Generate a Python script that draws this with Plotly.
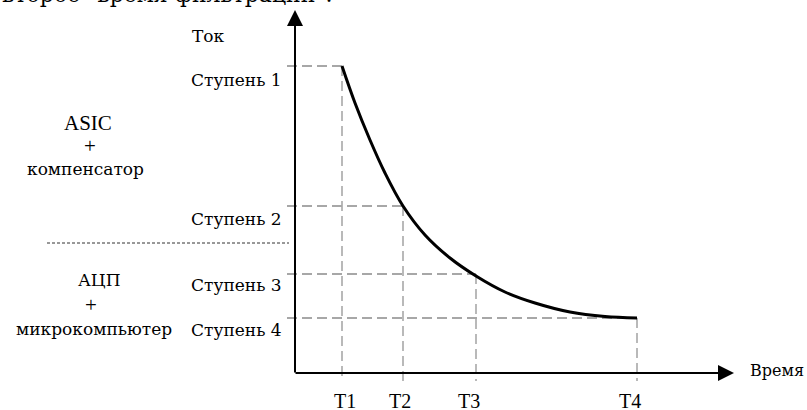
import plotly.graph_objects as go

# Time marks on the horizontal axis and current steps on the vertical axis
t_labels = ["T1", "T2", "T3", "T4"]
t_values = [0.47, 1.08, 1.81, 3.42]
step_labels = ["Ступень 1", "Ступень 2", "Ступень 3", "Ступень 4"]
step_values = [3.07, 1.67, 0.99, 0.55]

# Decay curve of the current over time
curve_t = [0.47, 0.60, 0.75, 0.90, 1.08, 1.30, 1.55, 1.81, 2.10, 2.40, 2.75, 3.10, 3.42]
curve_i = [3.07, 2.70, 2.33, 2.00, 1.67, 1.38, 1.15, 0.97, 0.81, 0.70, 0.61, 0.565, 0.55]

LATIN = "Liberation Serif"
CYR = "DejaVu Serif"

fig = go.Figure()

# dashed guides: horizontal from the axis to the curve, vertical down past the axis
hx, hy, vx, vy = [], [], [], []
for t, s in zip(t_values, step_values):
    hx += [-0.08, t, None]
    hy += [s, s, None]
    vx += [t, t, None]
    vy += [s, -0.08, None]

fig.add_trace(go.Scatter(x=hx, y=hy, mode="lines", hoverinfo="skip",
                         line=dict(color="#8a8a8a", width=1.3, dash="10px,5px")))
fig.add_trace(go.Scatter(x=vx, y=vy, mode="lines", hoverinfo="skip",
                         line=dict(color="#a8a8a8", width=1.6, dash="10px,5px")))

fig.add_trace(go.Scatter(x=curve_t, y=curve_i, mode="lines", hoverinfo="skip",
                         line=dict(color="black", width=3, shape="spline", smoothing=1.0)))

# separator between the two hardware groups
fig.add_shape(type="line", x0=-2.48, x1=-0.06, y0=1.30, y1=1.30, xref="x", yref="y",
              line=dict(color="#333333", width=1, dash="3px,2px"))

annotations = []
# axes drawn as arrows
annotations.append(dict(x=0, y=3.63, ax=0, ay=-0.01, xref="x", yref="y", axref="x", ayref="y",
                        text="", showarrow=True, arrowhead=2, arrowsize=1.6, arrowwidth=2,
                        arrowcolor="black", standoff=0, startstandoff=0))
annotations.append(dict(x=4.39, y=0, ax=-0.01, ay=0, xref="x", yref="y", axref="x", ayref="y",
                        text="", showarrow=True, arrowhead=2, arrowsize=1.6, arrowwidth=2,
                        arrowcolor="black", standoff=0, startstandoff=0))


def label(text, x, y, anchor="center", xref="x", yref="y", xshift=0, size=17, family=CYR):
    annotations.append(dict(text=text, x=x, y=y, xref=xref, yref=yref, xanchor=anchor,
                            yanchor="middle", showarrow=False, xshift=xshift,
                            font=dict(family=family, size=size, color="black")))


label("Ток", -1.05, 3.37, anchor="left")
label("Время", 4.53, 0.03, anchor="left", size=16)

step_label_y = [2.93, 1.54, 0.88, 0.43]
for txt, y in zip(step_labels, step_label_y):
    label(txt, -0.11, y, anchor="right")

t_shift = [3, -3, -7, -7]
for txt, t, sh in zip(t_labels, t_values, t_shift):
    label(txt, t, -0.275, xshift=sh, size=20, family=LATIN)

label("ASIC", -2.07, 2.50, size=21, family=LATIN)
label("+", -2.05, 2.27, size=21, family=LATIN)
label("компенсатор", -2.10, 2.04)
label("АЦП", -1.96, 0.93)
label("+", -2.04, 0.68, size=21, family=LATIN)
label("микрокомпьютер", -2.01, 0.44)

# tail of the preceding sentence, mostly above the frame
label('второе "время фильтрации".', 0, 1.014, anchor="left", xref="paper", yref="paper", size=22)

fig.update_layout(
    width=807, height=410,
    margin=dict(l=0, r=0, t=0, b=0),
    paper_bgcolor="white", plot_bgcolor="white",
    showlegend=False,
    xaxis=dict(range=[-2.95, 5.12], visible=False, fixedrange=True),
    yaxis=dict(range=[-0.37, 3.73], visible=False, fixedrange=True),
    annotations=annotations,
)

fig.write_html("out.html")
